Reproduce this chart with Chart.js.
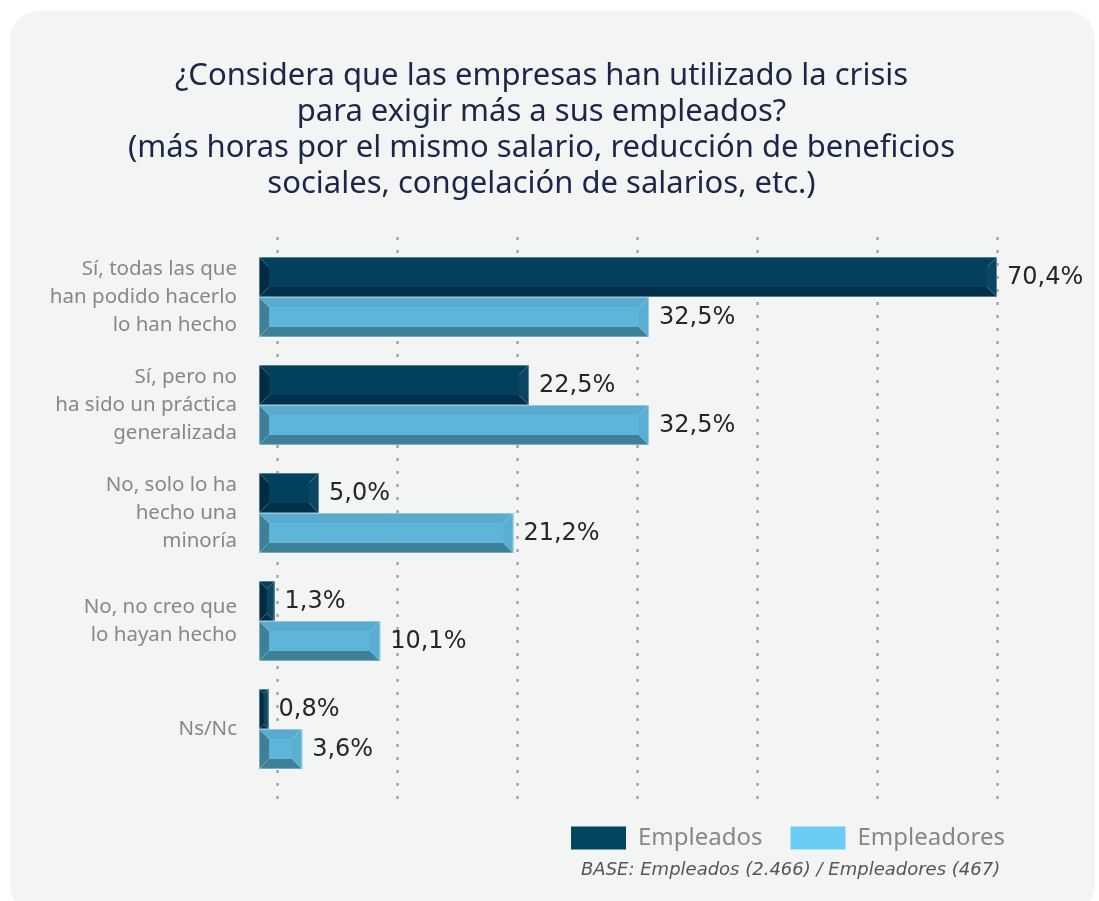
<!DOCTYPE html>
<html lang="es">
<head>
<meta charset="utf-8">
<script src="https://cdn.jsdelivr.net/npm/chart.js@4"></script>
<style>
  html, body { margin: 0; padding: 0; background: #fff; }
  body { width: 1099px; height: 901px; position: relative; overflow: hidden; }
  .card { position: absolute; left: 10px; top: 11px; width: 1085px; height: 902px; border-radius: 28px; background: #f3f5f5; }
  #wrap { position: absolute; left: 0; top: 0; width: 1099px; height: 901px; }
  .base { position: absolute; left: 581px; top: 860px; font: italic 18px/1 "DejaVu Sans", sans-serif; color: #555; }
</style>
</head>
<body>
<div class="card"></div>
<div id="wrap"><canvas id="chart" width="1099" height="901"></canvas></div>
<div class="base">BASE: Empleados (2.466) / Empleadores (467)</div>
<script>
const titleLines = [
  '¿Considera que las empresas han utilizado la crisis',
  'para exigir más a sus empleados?',
  '(más horas por el mismo salario, reducción de beneficios',
  'sociales, congelación de salarios, etc.)',
];
const categories = [
  ['Sí, todas las que', 'han podido hacerlo', 'lo han hecho'],
  ['Sí, pero no', 'ha sido un práctica', 'generalizada'],
  ['No, solo lo ha', 'hecho una', 'minoría'],
  ['No, no creo que', 'lo hayan hecho'],
  ['Ns/Nc'],
];
const empleados = [70.4, 22.5, 5.0, 1.3, 0.8];
const empleadores = [32.5, 32.5, 21.2, 10.1, 3.6];
const gridValues = [1.5, 11.5, 21.5, 31.5, 41.5, 51.5, 61.5];

const bevels = [
  { main: '#02405e', top: '#02405e', bottom: '#01304a', left: '#002b42', right: '#0a4562', legend: '#00445f' },
  { main: '#5db5da', top: '#59abd0', bottom: '#3f8099', left: '#3f7f99', right: '#5aaed1', legend: '#6bcdf5' },
];
const fmt = v => v.toFixed(1).replace('.', ',') + '%';

const dottedGrid = {
  id: 'dottedGrid',
  beforeDatasetsDraw(chart) {
    const { ctx, chartArea, scales: { x } } = chart;
    ctx.save();
    ctx.strokeStyle = '#a4a8ac';
    ctx.lineWidth = 2.5;
    ctx.setLineDash([3, 10]);
    gridValues.forEach(v => {
      const px = Math.round(x.getPixelForValue(v)) + 0.5;
      ctx.beginPath();
      ctx.moveTo(px, chartArea.top - 6);
      ctx.lineTo(px, chartArea.bottom + 18);
      ctx.stroke();
    });
    ctx.restore();
  }
};

const poly = (ctx, pts, color) => {
  ctx.fillStyle = color;
  ctx.beginPath();
  pts.forEach(([a, b], i) => i ? ctx.lineTo(a, b) : ctx.moveTo(a, b));
  ctx.closePath();
  ctx.fill();
};

// bevelled look on top of the plain bars, plus the value labels
const bevelBars = {
  id: 'bevelBars',
  afterDatasetsDraw(chart) {
    const { ctx, chartArea } = chart;
    ctx.save();
    chart.data.datasets.forEach((ds, di) => {
      const c = bevels[di];
      chart.getDatasetMeta(di).data.forEach((el, i) => {
        const p = el.getProps(['x', 'y', 'base', 'height'], true);
        const x0 = p.base, x1 = Math.min(p.x, chartArea.right);
        const y0 = p.y - p.height / 2, y1 = p.y + p.height / 2;
        const b = Math.min(10, (x1 - x0) / 2, (y1 - y0) / 2);
        poly(ctx, [[x0, y0], [x1, y0], [x1 - b, y0 + b], [x0 + b, y0 + b]], c.top);
        poly(ctx, [[x0, y1], [x1, y1], [x1 - b, y1 - b], [x0 + b, y1 - b]], c.bottom);
        poly(ctx, [[x0, y0], [x0 + b, y0 + b], [x0 + b, y1 - b], [x0, y1]], c.left);
        poly(ctx, [[x1, y0], [x1 - b, y0 + b], [x1 - b, y1 - b], [x1, y1]], c.right);
        ctx.strokeStyle = 'rgba(255,255,255,0.25)';
        ctx.lineWidth = 1;
        ctx.beginPath();
        ctx.moveTo(x0, y0); ctx.lineTo(x0 + b, y0 + b);
        ctx.moveTo(x1, y0); ctx.lineTo(x1 - b, y0 + b);
        ctx.moveTo(x0, y1); ctx.lineTo(x0 + b, y1 - b);
        ctx.moveTo(x1, y1); ctx.lineTo(x1 - b, y1 - b);
        ctx.stroke();
        ctx.strokeStyle = 'rgba(255,255,255,0.35)';
        ctx.strokeRect(x0 + 0.5, y0 + 0.5, x1 - x0 - 1, y1 - y0 - 1);

        ctx.fillStyle = '#262626';
        ctx.font = '24px "DejaVu Sans", sans-serif';
        ctx.textAlign = 'left';
        ctx.textBaseline = 'middle';
        ctx.fillText(fmt(ds.data[i]), x1 + 10, p.y + 1);
      });
    });
    ctx.restore();
  }
};

new Chart(document.getElementById('chart'), {
  type: 'bar',
  data: {
    labels: categories,
    datasets: [
      { label: 'Empleados', data: empleados, backgroundColor: bevels[0].main },
      { label: 'Empleadores', data: empleadores, backgroundColor: bevels[1].main },
    ],
  },
  options: {
    indexAxis: 'y',
    responsive: false,
    animation: false,
    barPercentage: 1,
    categoryPercentage: 0.74,
    layout: { padding: { top: 58, left: 50, right: 66, bottom: 41 } },
    scales: {
      x: {
        min: 0, max: 61.5,
        ticks: { display: false }, grid: { display: false }, border: { display: false },
        afterFit: s => { s.height = 15; },
      },
      y: {
        grid: { display: false, drawTicks: false },
        border: { display: false },
        ticks: { color: '#878787', padding: 22, font: { family: '"Noto Sans", sans-serif', size: 20.5, lineHeight: 1.38 } },
        afterFit: s => { s.width = 209; },
        afterUpdate: s => { s._computeLabelArea = () => undefined; },
      },
      // empty spacer on the right so the title and legend line up like the original
      y2: {
        type: 'linear', position: 'right',
        ticks: { display: false }, grid: { display: false }, border: { display: false },
        afterFit: s => { s.width = 36; },
      },
    },
    plugins: {
      title: {
        display: true, text: titleLines, color: '#1c2649',
        font: { family: '"Noto Sans", sans-serif', size: 31, weight: 'normal', lineHeight: '36px' },
        padding: { top: 0, bottom: 41 },
      },
      legend: {
        position: 'bottom',
        align: 'end',
        labels: {
          boxWidth: 55, boxHeight: 23, padding: 28, color: '#878787',
          font: { family: '"Noto Sans", sans-serif', size: 24 },
          generateLabels: chart => chart.data.datasets.map((ds, i) => ({
            text: ds.label, fillStyle: bevels[i].legend, strokeStyle: bevels[i].legend,
            fontColor: '#878787', lineWidth: 0, datasetIndex: i,
          })),
        },
      },
      tooltip: { enabled: false },
    },
  },
  plugins: [dottedGrid, bevelBars],
});
</script>
</body>
</html>
